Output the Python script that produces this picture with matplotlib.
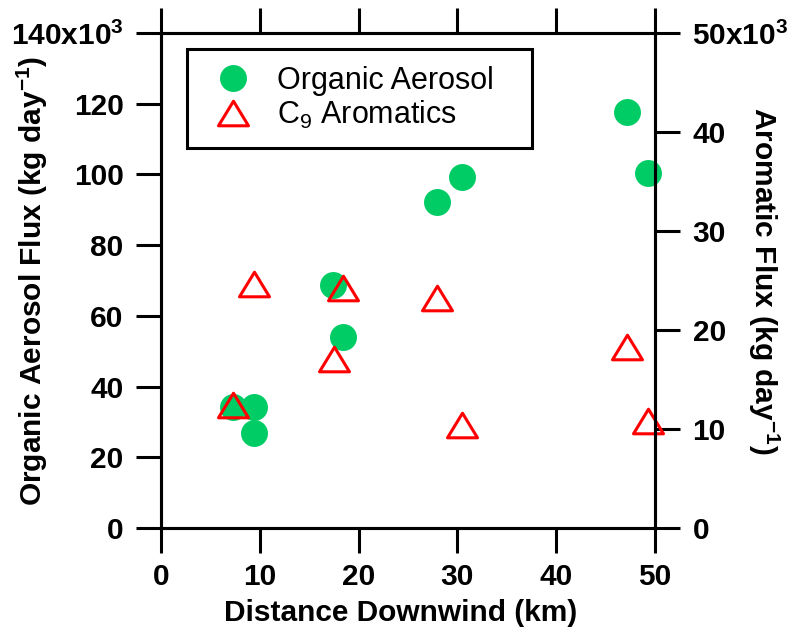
import matplotlib
matplotlib.use("Agg")
import matplotlib.pyplot as plt
from matplotlib.path import Path
from matplotlib.markers import MarkerStyle
from matplotlib.lines import Line2D
from matplotlib.patches import Rectangle

# ---------------- data ----------------
distance_oa = [7.3, 9.4, 9.4, 17.4, 18.4, 27.9, 30.5, 47.2, 49.3]
organic_aerosol = [34.3, 34.3, 26.9, 68.7, 53.9, 92.1, 99.4, 117.6, 100.3]   # x10^3 kg/day

distance_c9 = [7.3, 9.4, 17.5, 18.4, 27.9, 30.5, 47.2, 49.3]
c9_aromatics = [12.4, 24.6, 17.1, 24.2, 23.2, 10.4, 18.3, 10.8]              # x10^3 kg/day

x_ticks = [0, 10, 20, 30, 40, 50]
left_ticks = [0, 20, 40, 60, 80, 100, 120, 140]
left_tick_labels = ["0", "20", "40", "60", "80", "100", "120", r"140x10$^{3}$"]
right_ticks = [0, 10, 20, 30, 40, 50]
right_tick_labels = ["0", "10", "20", "30", "40", r"50x10$^{3}$"]

series_labels = ["Organic Aerosol", r"C$_{9}$ Aromatics"]
x_label = "Distance Downwind (km)"
left_label = r"Organic Aerosol Flux (kg day$^{-1}$)"
right_label = r"Aromatic Flux (kg day$^{-1}$)"

# ---------------- style ----------------
plt.rcParams["font.family"] = ["Liberation Sans", "DejaVu Sans"]
plt.rcParams["mathtext.fontset"] = "custom"
plt.rcParams["mathtext.rm"] = "Liberation Sans"
plt.rcParams["mathtext.bf"] = "Liberation Sans:bold"
plt.rcParams["mathtext.default"] = "regular"

GREEN = "#00CC66"
RED = "#FF0000"
LW = 2.2
TICK_LEN = 18
FS = 21.5

tri_path = Path([(-1, -0.82), (1, -0.82), (0, 0.82), (-1, -0.82)],
                [Path.MOVETO, Path.LINETO, Path.LINETO, Path.CLOSEPOLY])
tri_marker = MarkerStyle(tri_path, joinstyle="miter")

fig = plt.figure(figsize=(7.98, 6.37), dpi=100)
ax = fig.add_axes([161 / 798, 1 - 528 / 637, (655 - 161) / 798, (528 - 33) / 637])
ax2 = ax.twinx()

ax.plot(distance_oa, organic_aerosol, linestyle="none", marker="o",
        markersize=19.4, markerfacecolor=GREEN, markeredgewidth=0,
        clip_on=False, label=series_labels[0])
ax2.plot(distance_c9, c9_aromatics, linestyle="none", marker=tri_marker,
         markersize=21.6, markerfacecolor="none", markeredgecolor=RED,
         markeredgewidth=2.2, clip_on=False, label=series_labels[1])

ax.set_xlim(0, 50)
ax.set_ylim(0, 140)
ax2.set_ylim(0, 50)

ax.set_xticks(x_ticks)
ax.set_xticklabels([str(t) for t in x_ticks])
ax.set_yticks(left_ticks)
ax.set_yticklabels(left_tick_labels)
ax2.set_yticks(right_ticks)
ax2.set_yticklabels(right_tick_labels)

ax.tick_params(axis="x", which="major", direction="out", length=TICK_LEN, width=LW,
               top=True, labeltop=False, labelsize=FS, pad=7)
ax.tick_params(axis="y", which="major", direction="out", length=TICK_LEN, width=LW,
               left=True, right=False, labelsize=FS, pad=9)
ax2.tick_params(axis="y", which="major", direction="out", length=TICK_LEN, width=LW,
                right=True, left=False, labelsize=FS, pad=9)
ax.minorticks_off()
ax2.minorticks_off()

for a in (ax, ax2):
    for s in a.spines.values():
        s.set_linewidth(LW)
    for lab in a.get_xticklabels() + a.get_yticklabels():
        lab.set_fontweight("bold")

ax.set_xlabel(x_label, fontsize=FS, fontweight="bold")
ax.xaxis.set_label_coords(0.486, -0.143)
ax.set_ylabel(left_label, fontsize=FS, fontweight="bold")
ax.yaxis.set_label_coords(-0.225, 0.5)
ax2.set_ylabel(right_label, fontsize=FS, fontweight="bold", rotation=270, va="bottom")
ax2.yaxis.set_label_coords(1.184, 0.5)

# legend
h1 = Line2D([], [], linestyle="none", marker="o", markersize=19.4,
            markerfacecolor=GREEN, markeredgewidth=0)
h2 = Line2D([], [], linestyle="none", marker=tri_marker, markersize=21.6,
            markerfacecolor="none", markeredgecolor=RED, markeredgewidth=2.2)
leg = ax2.legend([h1, h2], series_labels, loc="upper left",
                 bbox_to_anchor=((199 - 161) / 494, (528 - 66) / 495),
                 borderaxespad=0, frameon=False, prop={"size": 22, "weight": "normal"},
                 handlelength=2.2, handletextpad=0.35, labelspacing=0.08,
                 borderpad=0)
ax2.add_patch(Rectangle(((187 - 161) / 494, (528 - 148) / 495),
                        (532 - 187) / 494, (148 - 49) / 495,
                        transform=ax2.transAxes, fill=False, edgecolor="black",
                        linewidth=LW, zorder=5, clip_on=False))

fig.savefig("out.png", dpi=100)
